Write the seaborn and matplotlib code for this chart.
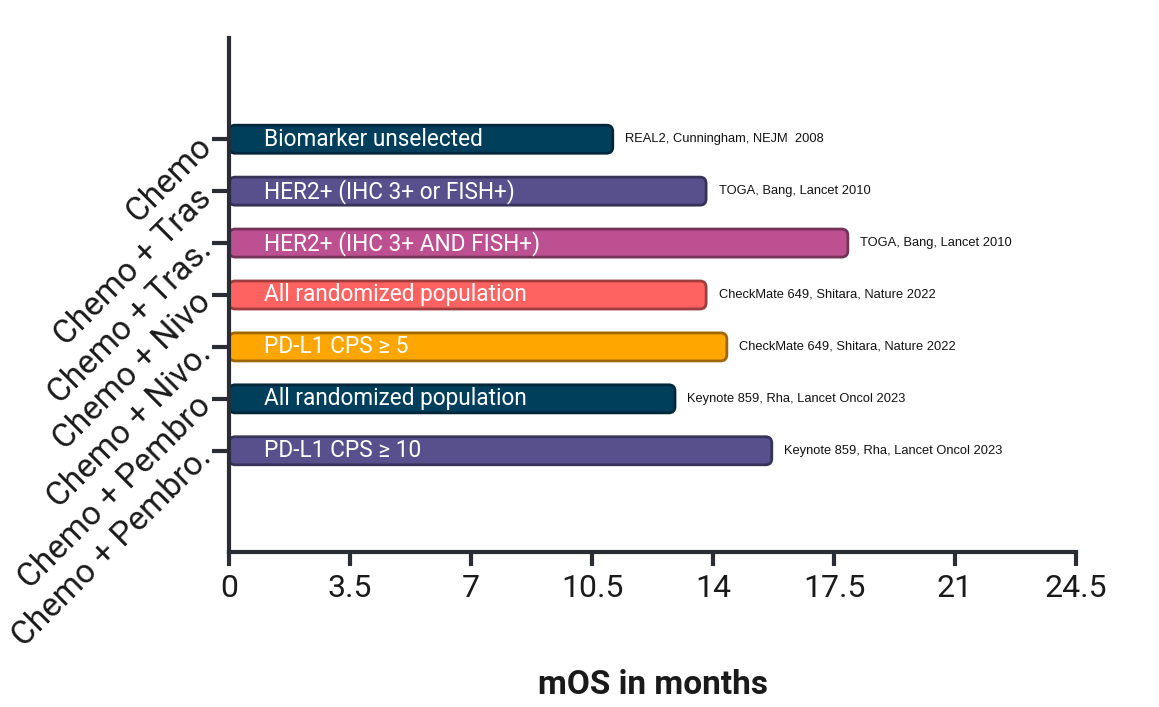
#!/usr/bin/env python3
"""
Median overall survival by regimen, horizontal bar chart.
"""

import matplotlib.pyplot as plt
import seaborn as sns
import pandas as pd
from matplotlib.patches import FancyBboxPatch
from matplotlib.colors import to_rgb

# Data
regimens = ["Chemo", "Chemo + Tras", "Chemo + Tras.", "Chemo + Nivo",
            "Chemo + Nivo.", "Chemo + Pembro", "Chemo + Pembro."]
mos = [11.1, 13.8, 17.9, 13.8, 14.4, 12.9, 15.7]
populations = ["Biomarker unselected", "HER2+ (IHC 3+ or FISH+)",
               "HER2+ (IHC 3+ AND FISH+)", "All randomized population",
               "PD-L1 CPS \u2265 5", "All randomized population",
               "PD-L1 CPS \u2265 10"]
references = ["REAL2, Cunningham, NEJM  2008", "TOGA, Bang, Lancet 2010",
              "TOGA, Bang, Lancet 2010", "CheckMate 649, Shitara, Nature 2022",
              "CheckMate 649, Shitara, Nature 2022",
              "Keynote 859, Rha, Lancet Oncol 2023",
              "Keynote 859, Rha, Lancet Oncol 2023"]
colors = ["#003f5c", "#58508d", "#bc5090", "#ff6361", "#ffa600",
          "#003f5c", "#58508d"]
xticks = [0, 3.5, 7, 10.5, 14, 17.5, 21, 24.5]

# Style
sns.set_style("white")
plt.rcParams["font.family"] = ["Roboto", "DejaVu Sans"]
axis_color = "#2a2d34"


def darker(c, f=0.62):
    r, g, b = to_rgb(c)
    return (r * f, g * f, b * f)


df = pd.DataFrame({"regimen": regimens, "mos": mos})

fig = plt.figure(figsize=(11.59, 7.07), dpi=100)
ax = fig.add_axes([0.1976, 0.2192, 0.7308, 0.7271])

sns.barplot(data=df, x="mos", y="regimen", hue="regimen", palette=colors,
            orient="h", width=0.54, saturation=1, legend=False, ax=ax)

ax.set_xlim(0, 24.5)
ax.set_ylim(7.95, -1.95)

# Swap the square bars for rounded ones with a darker outline
fig.canvas.draw()
px_x = ax.transData.transform((1, 0))[0] - ax.transData.transform((0, 0))[0]
px_y = abs(ax.transData.transform((0, 1))[1] - ax.transData.transform((0, 0))[1])
aspect = px_x / px_y
for patch in list(ax.patches):
    x, y = patch.get_x(), patch.get_y()
    w, h = patch.get_width(), patch.get_height()
    fc = patch.get_facecolor()
    patch.remove()
    box = FancyBboxPatch((x, y), w, h,
                         boxstyle="round,pad=0,rounding_size=0.18",
                         mutation_aspect=aspect,
                         facecolor=fc, edgecolor=darker(fc[:3]),
                         linewidth=2, zorder=2)
    ax.add_patch(box)

# Labels inside and next to the bars
for i, (v, pop, ref) in enumerate(zip(mos, populations, references)):
    ax.text(1.0, i, pop, va="center", ha="left", color="white",
            fontsize=16.3, zorder=3)
    ax.annotate(ref, (v, i), xytext=(9, 0), textcoords="offset points",
                va="center", ha="left", fontsize=9.3, color="#111111",
                family=["Liberation Sans", "DejaVu Sans"])

# Axes
ax.set_xticks(xticks)
ax.set_xticklabels([f"{t:g}" for t in xticks])
ax.tick_params(axis="x", length=10, width=3, color=axis_color,
               labelsize=23, pad=6, labelcolor="#1a1a1a")
ax.tick_params(axis="y", length=12, width=3, color=axis_color,
               labelsize=24, pad=6, labelcolor="#1a1a1a")
ax.tick_params(left=True, bottom=True)
for lbl in ax.get_yticklabels():
    lbl.set_rotation(45)
    lbl.set_ha("right")
    lbl.set_rotation_mode("anchor")

sns.despine(ax=ax)
for side in ["left", "bottom"]:
    ax.spines[side].set_color(axis_color)
    ax.spines[side].set_linewidth(3)

ax.set_ylabel("")
ax.set_xlabel("mOS in months", fontsize=24, fontweight="bold",
              labelpad=47, color="#1a1a1a")

fig.savefig("out.png", dpi=100, facecolor="white")
plt.close(fig)
